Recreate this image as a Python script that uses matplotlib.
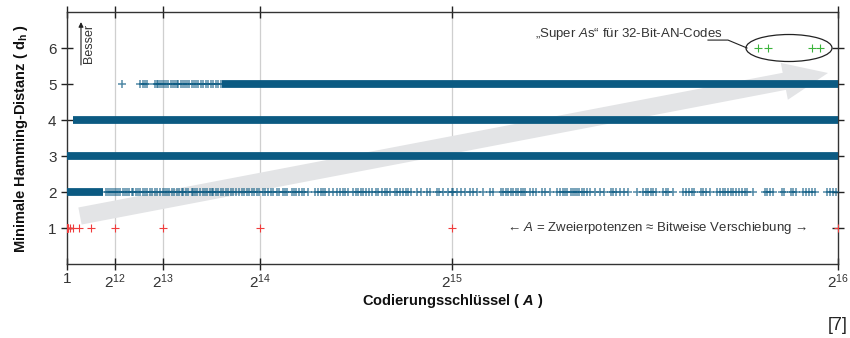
import matplotlib
matplotlib.use("Agg")
import matplotlib.pyplot as plt
from matplotlib.patches import Ellipse, FancyArrowPatch

plt.rcParams['font.family'] = ['Liberation Sans', 'DejaVu Sans']
plt.rcParams['mathtext.fontset'] = 'custom'
plt.rcParams['mathtext.rm'] = 'Liberation Sans'
plt.rcParams['mathtext.it'] = 'Liberation Sans:italic'
plt.rcParams['mathtext.bf'] = 'Liberation Sans:bold'
plt.rcParams['mathtext.bfit'] = 'Liberation Sans:italic:bold'

# ---------------- data ----------------
# solid (dense) stretches of keys A per minimal Hamming distance: (start, end)
dense_d2 = [(1, 3100)]
dense_d3 = [(1, 65536)]
dense_d4 = [(550, 65536)]
dense_d5 = [(13200, 65536)]

# individually visible keys in the sparse parts
sparse_d2 = [3300, 3480, 3655, 3825, 3995, 4165, 4363, 4505, 4732, 4930, 5128, 5298, 5497, 5638,
             5865, 6063, 6205, 6432, 6630, 6828, 7055, 7197, 7480, 7678, 7905, 8132,
             8330, 8472, 8698, 8897, 9095, 9322, 9548, 9747, 9888, 10115, 10313, 10597,
             10738, 10880, 11078, 11305, 11532, 11730, 11928, 12155, 12297, 12438, 12665,
             12863, 13062, 13288, 13515, 13713, 13912, 14138, 14365, 14648, 14847, 15045,
             15272, 15498, 15697, 15895, 16122, 16348, 16632, 16830, 17113, 17312, 17538,
             17822, 18048, 18332, 18530, 18728, 19097, 19295, 19465, 19748, 19947, 20145,
             20512, 21080, 21362, 21565, 21785, 21930, 22295, 22635, 22925, 23205, 23435,
             23630, 23910, 24335, 24565, 24760, 24965, 25185, 25415, 25695, 25900, 26265,
             26460, 26750, 27030, 27175, 27455, 27880, 28075, 28305, 28585, 28815, 29010,
             29215, 29725, 30065, 30625, 30855, 31425, 31645, 31935, 32410, 32700, 32835,
             33125, 33465, 33830, 34255, 34485, 34825, 35335, 35955, 36235, 36865, 37085,
             37315, 37510, 37715, 37935, 38165, 38360, 38565, 38785, 38930, 39355, 39635,
             39865, 40350, 40630, 41055, 41675, 41905, 42135, 42330, 42525, 42815, 42985,
             43180, 43325, 43545, 43750, 43945, 44175, 44455, 44880, 45305, 45645, 46215,
             46435, 46665, 47005, 47345, 47710, 48425, 48985, 49215, 49410, 49615, 49835,
             50065, 50635, 50915, 51110, 51535, 52335, 52615, 52895, 53097, 53295, 53865,
             54085, 54315, 54655, 55275, 55505, 55735, 55930, 56210, 56415, 56635, 56865,
             57145, 57347, 57630, 57825, 58335, 59330, 59525, 59755, 60035, 60750, 60945,
             61515, 61735, 61965, 62585, 62815, 63095, 63297, 63580, 64575, 64855, 65085,
             65365]
sparse_d5 = [4650, 6205, 6432, 6630, 6828, 7480, 7622, 7763, 7905, 8047, 8245, 8415,
             8613, 8812, 8982, 9180, 9322, 9463, 9662, 9832, 10030, 10228, 10398, 10597,
             10795, 10965, 11163, 11362, 11588, 11815, 12013, 12212, 12438, 12665, 12863,
             13062]

# d = 1: powers of two
pow2_exp = list(range(0, 17))
# d = 6: "Super As"
super_A = [58760, 59610, 63300, 64005]

xtick_exp = [12, 13, 14, 15, 16]
yticks = [1, 2, 3, 4, 5, 6]

# ---------------- styling ----------------
BLUE = '#0b5a82'
RED = '#f03c3c'
GREEN = '#3cb43c'
GRAY_TXT = '#333333'

fig = plt.figure(figsize=(8.5, 3.38), dpi=100)
ax = fig.add_axes([67/850, 74/338, 771/850, 252/338])
ax.set_xlim(1, 65536)
ax.set_ylim(0, 7)

# big "better" arrow behind data
arrow = FancyArrowPatch((1105, 1.333), (64685, 5.306),
                        arrowstyle='simple,head_width=2.7,head_length=3.2,tail_width=1.25',
                        mutation_scale=10, fc='#e3e4e6', ec='none', zorder=1,
                        shrinkA=0, shrinkB=0)
ax.add_patch(arrow)

# dense bands
for y, segs in [(2, dense_d2), (3, dense_d3), (4, dense_d4), (5, dense_d5)]:
    for s, e in segs:
        ax.hlines(y, s, e, colors=BLUE, lw=5.6, zorder=3)

# sparse markers
ax.plot(sparse_d2, [2]*len(sparse_d2), ls='none', marker='+', ms=6.3, mew=1.1,
        color=BLUE, alpha=0.7, zorder=3)
ax.plot(sparse_d5, [5]*len(sparse_d5), ls='none', marker='+', ms=6.3, mew=1.1,
        color=BLUE, alpha=0.7, zorder=3)

ax.plot([2**k for k in pow2_exp], [1]*len(pow2_exp), ls='none', marker='+', ms=6.3,
        mew=0.8, color=RED, zorder=3)
ax.plot(super_A, [6]*len(super_A), ls='none', marker='+', ms=6.0, mew=0.8,
        color=GREEN, zorder=3)

# axes, ticks, grid
xticks = [1] + [2**e for e in xtick_exp]
ax.set_xticks(xticks)
ax.set_xticklabels(['1'] + [r'$\mathregular{2^{%d}}$' % e for e in xtick_exp])
ax.set_yticks(yticks)
ax.set_yticklabels([str(v) for v in yticks])
for xt in xticks[1:-1]:
    ax.axvline(xt, color='#cfcfcf', lw=0.9, zorder=0)
ax.tick_params(direction='inout', length=8, width=1.0, color='#222222',
               labelsize=11, labelcolor=GRAY_TXT, top=True, right=True)
ax.tick_params(axis='x', pad=2)
for sp in ax.spines.values():
    sp.set_color('#333333')
    sp.set_linewidth(1.0)

ax.set_xlabel(r'Codierungsschlüssel ( $\mathbfit{A}$ )', fontsize=10.5,
              fontweight='bold', color='#111111', labelpad=1)
ax.set_ylabel(r'Minimale Hamming-Distanz ( d$_{\mathbf{h}}$ )', fontsize=10.5,
              fontweight='bold', color='#111111', labelpad=13)

# "Besser" arrow
ax.annotate('', xy=(1190, 6.72), xytext=(1190, 5.53),
            arrowprops=dict(arrowstyle='-|>', lw=0.8, color='#222222',
                            mutation_scale=7, shrinkA=0, shrinkB=0))
ax.text(1900, 6.13, 'Besser', rotation=90, fontsize=9, color=GRAY_TXT,
        ha='center', va='center')

# Super As annotation
ax.add_patch(Ellipse((61370, 6.0), 7310, 0.75, fill=False, ec='#222222', lw=0.9, zorder=4))
ax.plot([54485, 56185, 57800], [6.22, 6.22, 6.0], color='#222222', lw=0.8, zorder=4)
ax.text(39780, 6.39, r'„Super $\mathit{A}$s“ für 32-Bit-AN-Codes', fontsize=9.5,
        color=GRAY_TXT, ha='left', va='center')

ax.text(50150, 1.0, r'← $\mathit{A}$ = Zweierpotenzen ≈ Bitweise Verschiebung →',
        fontsize=9.5, color=GRAY_TXT, ha='center', va='center',
        family=['DejaVu Sans'] if False else None)

fig.text(848/850, 1 - 325/338, '[7]', fontsize=13, color='#222222', ha='right', va='center')

fig.savefig('out.png', dpi=100)
